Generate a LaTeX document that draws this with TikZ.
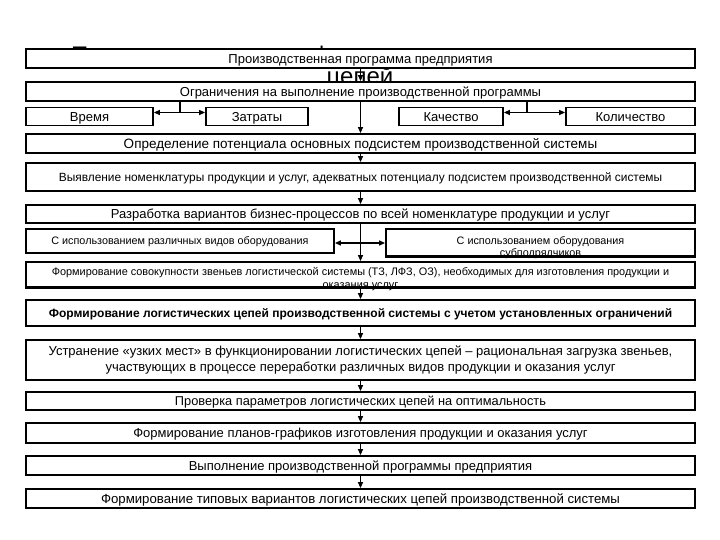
\documentclass[tikz,border=0pt]{standalone}
\usepackage{fontspec}
\setmainfont{Liberation Sans}
\usetikzlibrary{arrows.meta,calc}
\newcommand{\fsz}[1]{\fontsize{#1}{#1}\selectfont}
\begin{document}
\begin{tikzpicture}[x=1pt,y=-1pt,
  box/.style={draw=black, line width=1.8pt, fill=white, inner sep=0pt, align=center, text=black},
  wide/.style={box, minimum width=669pt},
  tx/.style={text height=#1pt, text depth=0pt},
  ln/.style={line width=1.4pt, draw=black},
  arr/.style={ln, -{Triangle[length=6pt,width=5pt]}},
  darr/.style={ln, {Triangle[length=6pt,width=5pt]}-{Triangle[length=6pt,width=5pt]}},
  ttl/.style={anchor=base west, inner sep=0pt, font=\fsz{24}}
]
\useasboundingbox (0,0) rectangle (720,540);
\fill[white] (0,0) rectangle (720,540);
% title of the slide, mostly hidden behind the boxes
\node[ttl] (t1) at (71,63.5) {Последовательность формирования логистических};
\node[anchor=base, inner sep=0pt, font=\fsz{24}] (t2) at (360,85) {цепей};
% main boxes
\node[wide, tx=9.4, minimum height=19pt, font=\fsz{13}] (b1) at (360.5,58.5) {Производственная программа предприятия};
\node[wide, tx=9.4, minimum height=19pt, font=\fsz{13}] (b2) at (360.5,91.5) {Ограничения на выполнение производственной программы};
\node[box, tx=9.4, minimum width=127pt, minimum height=18pt, font=\fsz{13}] (vr) at (89.5,116.5) {Время};
\node[box, tx=9.4, minimum width=102pt, minimum height=18pt, font=\fsz{13}] (zt) at (257,116.5) {Затраты};
\node[box, tx=9.4, minimum width=104pt, minimum height=18pt, font=\fsz{13}] (kc) at (451,116.5) {Качество};
\node[box, tx=9.4, minimum width=129pt, minimum height=18pt, font=\fsz{13}] (kl) at (630.5,116.5) {Количество};
\node[wide, tx=9.7, minimum height=19pt, font=\fsz{13.5}] (b3) at (360.5,143.5) {Определение потенциала основных подсистем производственной системы};
\node[wide, tx=8.6, minimum height=28pt, font=\fsz{11.9}] (b4) at (360.5,177) {Выявление номенклатуры продукции и услуг, адекватных потенциалу подсистем производственной системы};
\node[wide, tx=9.4, minimum height=18pt, font=\fsz{13}] (b5) at (360.5,214) {Разработка вариантов бизнес-процессов по всей номенклатуре продукции и услуг};
\node[box, tx=7.8, minimum width=308pt, minimum height=24pt, font=\fsz{10.8}] (sl) at (180,241) {С использованием различных видов оборудования};
\node[box, minimum width=309pt, minimum height=27pt] (sr) at (540.5,242.5) {};
\node[inner sep=0pt, font=\fsz{10.8}, anchor=base] (sr1) at (540.5,244) {С использованием оборудования};
\node[inner sep=0pt, font=\fsz{10.8}, anchor=base] (sr2) at (540.5,256) {субподрядчиков};
\draw[line width=1.8pt] (sr.south west) -- (sr.south east);
\node[wide, minimum height=25pt] (b6) at (360.5,274.5) {};
\node[inner sep=0pt, font=\fsz{10.9}, anchor=base] (b6a) at (360.5,275) {Формирование совокупности звеньев логистической системы (ТЗ, ЛФЗ, ОЗ), необходимых для изготовления продукции и};
\node[inner sep=0pt, font=\fsz{10.9}, anchor=base] (b6b) at (360.5,288) {оказания услуг};
\draw[line width=1.8pt] (b6.south west) -- (b6.south east);
\node[wide, tx=8.7, minimum height=26pt, font=\bfseries\fsz{12}] (b7) at (360.5,313) {Формирование логистических цепей производственной системы с учетом установленных ограничений};
\node[wide, minimum height=40pt, font=\fsz{13}, execute at begin node={\setlength{\baselineskip}{16pt}}] (b8) at (360.5,360) {Устранение «узких мест» в функционировании логистических цепей – рациональная загрузка звеньев,\\участвующих в процессе переработки различных видов продукции и оказания услуг};
\node[wide, tx=9.2, minimum height=18pt, font=\fsz{12.8}] (b9) at (360.5,401) {Проверка параметров логистических цепей на оптимальность};
\node[wide, tx=9.4, minimum height=20pt, font=\fsz{13}] (b10) at (360.5,433) {Формирование планов-графиков изготовления продукции и оказания услуг};
\node[wide, tx=9.4, minimum height=19pt, font=\fsz{13}] (b11) at (360.5,465.5) {Выполнение производственной программы предприятия};
\node[wide, tx=9.5, minimum height=19pt, font=\fsz{13.2}] (b12) at (360.5,498.5) {Формирование типовых вариантов логистических цепей производственной системы};
% connectors
\draw[arr] (b1) -- (b2);
\draw[arr] (b2) -- (b3);
\draw[arr] (b3) -- (b4);
\draw[arr] (b4) -- (b5);
\draw[arr] (b5) -- (b6);
\draw[arr] (b6) -- (b7);
\draw[arr] (b7) -- (b8);
\draw[arr] (b8) -- (b9);
\draw[arr] (b9) -- (b10);
\draw[arr] (b10) -- (b11);
\draw[arr] (b11) -- (b12);
\coordinate (m1) at (180,112.5);
\coordinate (m2) at (527,112.5);
\coordinate (m3) at (360.5,243);
\draw[ln] (m1 |- b2.south) -- (m1);
\draw[darr] (m1 -| vr.east) -- (m1 -| zt.west);
\draw[ln] (m2 |- b2.south) -- (m2);
\draw[darr] (m2 -| kc.east) -- (m2 -| kl.west);
\draw[darr] (m3 -| sl.east) -- (m3 -| sr.west);
\end{tikzpicture}
\end{document}
